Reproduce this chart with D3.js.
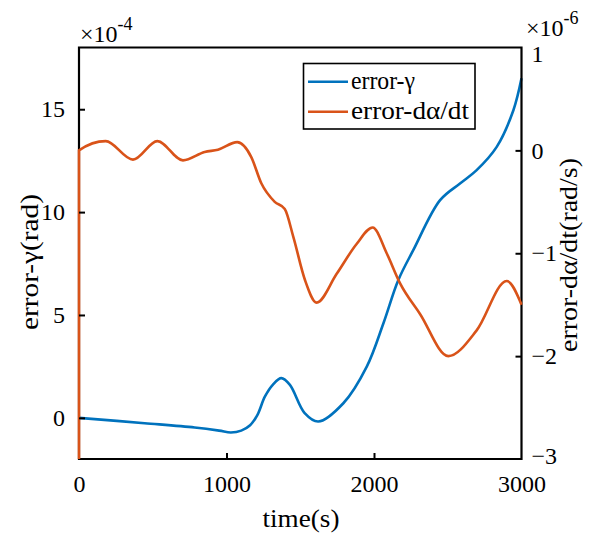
<!DOCTYPE html>
<html>
<head>
<meta charset="utf-8">
<script src="https://cdn.jsdelivr.net/npm/d3@7"></script>
<style>
  html, body { margin: 0; padding: 0; background: #fff; }
  svg { display: block; font-family: "Liberation Serif", "Times New Roman", serif; }
</style>
</head>
<body>
<svg id="chart" width="598" height="533"></svg>
<script>
// time axis (s)
const timeTicks = [0, 1000, 2000, 3000];
// left axis: error-γ in units of 1e-4 rad
const gammaTicks = [0, 5, 10, 15];
// right axis: error-dα/dt in units of 1e-6 rad/s
const rateTicks = [-3, -2, -1, 0, 1];

// error-γ series (time, value ×1e-4)
const gammaTime  = [0, 445, 784, 950, 1030, 1100, 1160, 1210, 1260, 1315, 1372, 1430, 1530, 1622, 1792, 1951, 2064, 2165, 2267, 2448, 2583, 2696, 2832, 2945, 3000];
const gammaValue = [0, -0.26, -0.47, -0.62, -0.71, -0.62, -0.36, 0.15, 1.03, 1.62, 1.93, 1.6, 0.23, -0.18, 0.71, 2.49, 4.6, 6.7, 8.16, 10.58, 11.39, 12.04, 13.17, 14.95, 16.5];

// error-dα/dt series (time, value ×1e-6)
const rateTime  = [0, 0, 181, 366, 531, 705, 852, 942, 1073, 1168, 1236, 1327, 1395, 1453, 1532, 1611, 1747, 1882, 1991, 2086, 2176, 2312, 2504, 2696, 2900, 3000];
const rateValue = [-3, 0, 0.09, -0.09, 0.09, -0.097, -0.016, 0.007, 0.08, -0.065, -0.32, -0.5, -0.57, -0.84, -1.26, -1.48, -1.2, -0.91, -0.75, -1.0, -1.29, -1.59, -2.0, -1.75, -1.27, -1.5];

const seriesNames = ["error-γ", "error-dα/dt"];
const colors = ["#0072BD", "#D95319"];

const svg = d3.select("#chart");
const L = 79, R = 521.5, T = 47.5, B = 459;

const x = d3.scaleLinear().domain([0, 3000]).range([L, R]);
const yL = d3.scaleLinear().domain([-2, 18]).range([B, T]);
const yR = d3.scaleLinear().domain([-3, 1]).range([B, T]);

const tickFont = 24;
const labelFont = 25;

// curves
const gammaData = gammaTime.map((t, i) => [t, gammaValue[i]]);
const rateData = rateTime.map((t, i) => [t, rateValue[i]]);

svg.append("path")
  .datum(gammaData)
  .attr("fill", "none")
  .attr("stroke", colors[0])
  .attr("stroke-width", 2.6)
  .attr("d", d3.line().x(d => x(d[0])).y(d => yL(d[1])).curve(d3.curveCatmullRom.alpha(0.5)));

// box frame
svg.append("path")
  .attr("d", `M${L},${T}H${R}V${B}H${L}Z`)
  .attr("fill", "none").attr("stroke", "#000").attr("stroke-width", 2.2);

svg.append("path")
  .datum(rateData)
  .attr("fill", "none")
  .attr("stroke", colors[1])
  .attr("stroke-width", 2.6)
  .attr("d", d3.line().x(d => x(d[0])).y(d => yR(d[1])).curve(d3.curveMonotoneX));

function styleTicks(g) {
  g.select(".domain").remove();
  g.selectAll("line").attr("stroke", "#000").attr("stroke-width", 2);
  g.selectAll("text").attr("font-size", tickFont).attr("fill", "#000").attr("font-family", "Liberation Serif");
}

// bottom axis (ticks point inward)
const xAxis = svg.append("g").attr("transform", `translate(0,${B})`)
  .call(d3.axisBottom(x).tickValues(timeTicks).tickSize(-6).tickPadding(16).tickFormat(d3.format("d")));
styleTicks(xAxis);
xAxis.selectAll("line").filter(d => d === 0 || d === 3000).remove();

// left axis
const yAxisL = svg.append("g").attr("transform", `translate(${L},0)`)
  .call(d3.axisLeft(yL).tickValues(gammaTicks).tickSize(-6).tickPadding(14).tickFormat(d3.format("d")));
styleTicks(yAxisL);

// right axis
const yAxisR = svg.append("g").attr("transform", `translate(${R},0)`)
  .call(d3.axisRight(yR).tickValues(rateTicks).tickSize(-6).tickPadding(10).tickFormat(d3.format("d")));
styleTicks(yAxisR);
yAxisR.selectAll("line").filter(d => d === -3 || d === 1).remove();
yAxisR.selectAll("text").attr("dy", d => d === 1 ? "0.6em" : (d === -3 ? "0.2em" : "0.32em"));

// exponent labels
function exponent(xPos, yPos, exp) {
  const t = svg.append("text").attr("x", xPos).attr("y", yPos)
    .attr("font-size", tickFont).attr("fill", "#000");
  t.append("tspan").text("×10");
  t.append("tspan").attr("dy", -12).attr("font-size", 18).text(exp);
}
exponent(80, 42, "-4");
exponent(526, 36, "-6");

// axis titles
svg.append("text").attr("x", 301).attr("y", 527).attr("text-anchor", "middle")
  .attr("font-size", labelFont).attr("fill", "#000")
  .attr("textLength", 77).attr("lengthAdjust", "spacingAndGlyphs").text("time(s)");
svg.append("text").attr("transform", `translate(38,262) rotate(-90)`)
  .attr("text-anchor", "middle").attr("font-size", labelFont).attr("fill", "#000")
  .attr("textLength", 136).attr("lengthAdjust", "spacingAndGlyphs").text("error-γ(rad)");
svg.append("text").attr("transform", `translate(577,255) rotate(-90)`)
  .attr("text-anchor", "middle").attr("font-size", labelFont).attr("fill", "#000")
  .attr("textLength", 194).attr("lengthAdjust", "spacingAndGlyphs").text("error-dα/dt(rad/s)");

// legend
const lg = svg.append("g");
lg.append("rect").attr("x", 303.5).attr("y", 63.5).attr("width", 171.5).attr("height", 65.5)
  .attr("fill", "#fff").attr("stroke", "#000").attr("stroke-width", 1.6);
const legendWidths = [64, 118];
seriesNames.forEach((name, i) => {
  const cy = 81.7 + i * 30;
  lg.append("line").attr("x1", 308).attr("x2", 348).attr("y1", cy).attr("y2", cy)
    .attr("stroke", colors[i]).attr("stroke-width", 2.6);
  lg.append("text").attr("x", 351).attr("y", cy + 7.5).attr("font-size", labelFont).attr("fill", "#000")
    .attr("textLength", legendWidths[i]).attr("lengthAdjust", "spacingAndGlyphs").text(name);
});
</script>
</body>
</html>
